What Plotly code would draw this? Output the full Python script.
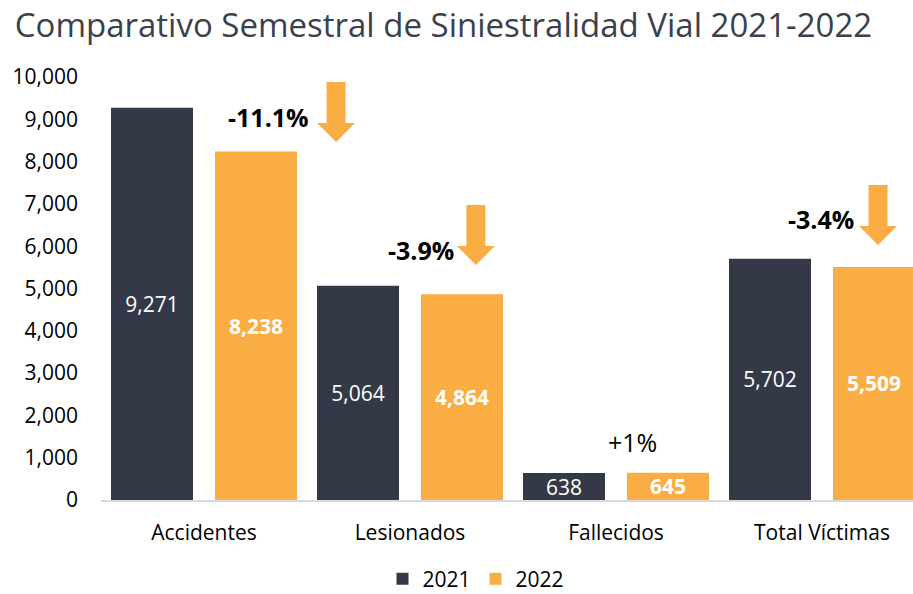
import plotly.graph_objects as go

categories = ["Accidentes", "Lesionados", "Fallecidos", "Total Víctimas"]
values_2021 = [9271, 5064, 638, 5702]
values_2022 = [8238, 4864, 645, 5509]
change_labels = ["<b>-11.1%</b>", "<b>-3.9%</b>", "+1%", "<b>-3.4%</b>"]
y_ticks = list(range(0, 10001, 1000))

DARK = "#333946"
ORANGE = "#f9ad42"
FONT = "Open Sans"

# label / arrow placement per category, in data units
change_pos_x = [0.311, 1.053, 2.078, 2.995]
change_pos_y = [9054, 5910, 1371, 6643]
arrow_x = [0.641, 1.320, None, 3.272]
arrow_top = [9882, 6974, None, 7447]

x_pos = list(range(len(categories)))
bar_w = 82 / 206

fig = go.Figure()
fig.add_trace(
    go.Bar(
        x=x_pos,
        y=values_2021,
        name="2021",
        marker={"color": DARK, "line": {"width": 0}},
        width=bar_w,
        offset=-93 / 206,
        texttemplate="%{y:,}",
        textposition="inside",
        insidetextanchor="middle",
        constraintext="none",
        textangle=0,
        textfont={"family": FONT, "size": 21, "color": "white"},
        hoverinfo="skip",
    )
)
fig.add_trace(
    go.Bar(
        x=x_pos,
        y=values_2022,
        name="2022",
        marker={"color": ORANGE, "line": {"width": 0}},
        width=bar_w,
        offset=11 / 206,
        texttemplate="%{y:,}",
        textposition="inside",
        insidetextanchor="middle",
        constraintext="none",
        textangle=0,
        textfont={"family": FONT, "size": 21, "color": "white", "weight": "bold"},
        hoverinfo="skip",
    )
)

for i, label in enumerate(change_labels):
    fig.add_annotation(
        x=change_pos_x[i],
        y=change_pos_y[i],
        text=label,
        showarrow=False,
        font={"family": FONT, "size": 25, "color": "black"},
        xanchor="center",
        yanchor="middle",
    )
    if arrow_x[i] is None:
        continue
    fig.add_shape(
        type="path",
        xref="x",
        yref="y",
        xsizemode="pixel",
        ysizemode="pixel",
        xanchor=arrow_x[i],
        yanchor=arrow_top[i],
        path="M-9.5,0 L9.5,0 L9.5,-41 L19,-41 L0,-60 L-19,-41 L-9.5,-41 Z",
        fillcolor=ORANGE,
        line={"width": 0},
    )

fig.update_layout(
    width=913,
    height=594,
    margin={"l": 101, "r": 0, "t": 77, "b": 94, "autoexpand": False},
    paper_bgcolor="white",
    plot_bgcolor="white",
    barmode="overlay",
    font={"family": FONT, "color": "black"},
    title={
        "text": "Comparativo Semestral de Siniestralidad Vial 2021-2022",
        "font": {"family": FONT, "size": 33, "color": "#3a404d"},
        "x": 443.5 / 913,
        "xanchor": "center",
        "xref": "container",
        "y": 1 - 25 / 594,
        "yanchor": "middle",
        "yref": "container",
    },
    showlegend=True,
    legend={
        "orientation": "h",
        "x": (476 - 101) / 812,
        "xanchor": "center",
        "y": 1 - 579 / 594,
        "yref": "container",
        "yanchor": "middle",
        "font": {"family": FONT, "size": 21, "color": "black"},
        "itemclick": False,
    },
)
fig.update_xaxes(
    range=[-0.5, 3.5 - 12 / 206],
    tickvals=x_pos,
    ticktext=categories,
    showgrid=False,
    zeroline=False,
    showline=True,
    linecolor="#d9d9d9",
    linewidth=2,
    ticks="",
    ticklabelstandoff=13,
    automargin=False,
    tickfont={"family": FONT, "size": 21, "color": "black"},
)
fig.update_yaxes(
    range=[0, 10000],
    tickvals=y_ticks,
    tickformat=",",
    showgrid=False,
    zeroline=False,
    showline=False,
    ticks="",
    ticklabelstandoff=22,
    automargin=False,
    tickfont={"family": FONT, "size": 21, "color": "black"},
)

# page body has a default 8px margin; drop it so the figure sits at the window origin
fig.write_html(
    "out.html",
    config={"displayModeBar": False},
    post_script="document.body.style.margin = '0';",
)
